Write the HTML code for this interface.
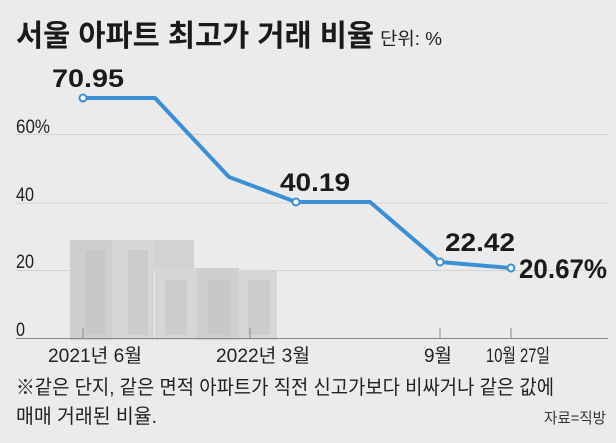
<!DOCTYPE html>
<html><head><meta charset="utf-8"><style>
body{margin:0;width:616px;height:438px;background:#ebebeb;overflow:hidden;font-family:"Liberation Sans","Noto Sans CJK KR",sans-serif;}
</style></head><body>
<svg width="616" height="438" viewBox="0 0 616 438" xmlns="http://www.w3.org/2000/svg" font-family="Liberation Sans, Noto Sans CJK KR, sans-serif">
<rect width="616" height="438" fill="#ebebeb"/>
<text x="16" y="46" font-size="30" font-weight="bold" fill="#1a1a1a" textLength="358" lengthAdjust="spacingAndGlyphs">서울 아파트 최고가 거래 비율</text>
<text x="380" y="45" font-size="18" fill="#222" textLength="62" lengthAdjust="spacingAndGlyphs">단위: %</text>
<g stroke="#d4d4d4" stroke-width="1">
<line x1="16" y1="134.5" x2="608" y2="134.5"/><line x1="16" y1="203" x2="608" y2="203"/><line x1="16" y1="270.5" x2="608" y2="270.5"/>
</g>
<g fill="#cfcfcf">
<rect x="70" y="240" width="42" height="100"/><rect x="112" y="240" width="42" height="100" fill="#d6d6d6"/><rect x="154" y="240" width="40" height="30" fill="#d2d2d2"/>
<rect x="155" y="268" width="42" height="72" fill="#d6d6d6"/><rect x="197" y="268" width="42" height="72"/><rect x="239" y="270" width="38" height="70" fill="#d6d6d6"/>
</g>
<g fill="#c2c2c2">
<rect x="85" y="250" width="20" height="85" opacity="0.5"/><rect x="128" y="250" width="20" height="85" opacity="0.5"/>
<rect x="165" y="280" width="22" height="55" opacity="0.5"/><rect x="208" y="280" width="22" height="55" opacity="0.5"/><rect x="248" y="280" width="22" height="55" opacity="0.5"/>
</g>
<line x1="16" y1="338.5" x2="608" y2="338.5" stroke="#888" stroke-width="1"/>
<g stroke="#888"><line x1="83" y1="328" x2="83" y2="338"/><line x1="250" y1="328" x2="250" y2="338"/><line x1="440" y1="328" x2="440" y2="338"/><line x1="511" y1="328" x2="511" y2="338"/></g>
<g font-size="19" fill="#222" lengthAdjust="spacingAndGlyphs">
<text x="16" y="133" textLength="34" lengthAdjust="spacingAndGlyphs">60%</text><text x="16" y="201" textLength="18" lengthAdjust="spacingAndGlyphs">40</text><text x="16" y="268" textLength="18" lengthAdjust="spacingAndGlyphs">20</text><text x="16" y="336" textLength="9" lengthAdjust="spacingAndGlyphs">0</text>
<text x="48" y="362" textLength="94" lengthAdjust="spacingAndGlyphs">2021년 6월</text><text x="216" y="362" textLength="94" lengthAdjust="spacingAndGlyphs">2022년 3월</text>
<text x="424" y="362" textLength="28" lengthAdjust="spacingAndGlyphs">9월</text><text x="486" y="362" textLength="64" lengthAdjust="spacingAndGlyphs">10월 27일</text>
</g>
<polyline points="83,98 155,98 229,177 296,202 370,202 440,262 511,268" fill="none" stroke="#3d8fd4" stroke-width="4" stroke-linejoin="round"/>
<g fill="#fff" stroke="#3d8fd4" stroke-width="2">
<circle cx="83" cy="98" r="3.5"/><circle cx="296" cy="202" r="3.5"/><circle cx="440" cy="262" r="3.5"/><circle cx="511" cy="268" r="3.5"/>
</g>
<g font-size="25" font-weight="bold" fill="#1a1a1a">
<text x="52" y="87" textLength="72" lengthAdjust="spacingAndGlyphs">70.95</text><text x="280" y="191" textLength="70" lengthAdjust="spacingAndGlyphs">40.19</text>
<text x="445" y="251" textLength="70" lengthAdjust="spacingAndGlyphs">22.42</text><text x="519" y="278" textLength="88" font-size="27" lengthAdjust="spacingAndGlyphs">20.67%</text>
</g>
<text x="16" y="394" font-size="20" fill="#222" textLength="538" lengthAdjust="spacingAndGlyphs">※같은 단지, 같은 면적 아파트가 직전 신고가보다 비싸거나 같은 값에</text>
<text x="16" y="423" font-size="20" fill="#222" textLength="141" lengthAdjust="spacingAndGlyphs">매매 거래된 비율.</text>
<text x="544" y="423" font-size="15" fill="#333" textLength="62" lengthAdjust="spacingAndGlyphs">자료=직방</text>
</svg>
</body></html>
